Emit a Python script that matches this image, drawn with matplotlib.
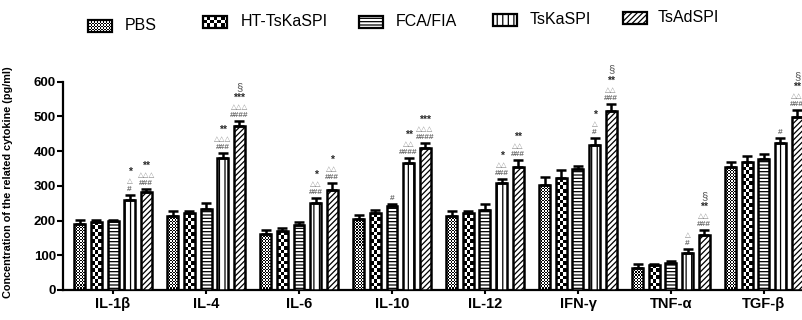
import numpy as np
import matplotlib
matplotlib.use("Agg")
import matplotlib.pyplot as plt
from matplotlib.patches import Rectangle

plt.rcParams["font.family"] = ["Liberation Sans", "DejaVu Sans"]
plt.rcParams["hatch.linewidth"] = 0.9

cytokines = ["IL-1β", "IL-4", "IL-6", "IL-10", "IL-12", "IFN-γ", "TNF-α", "TGF-β"]
groups = ["PBS", "HT-TsKaSPI", "FCA/FIA", "TsKaSPI", "TsAdSPI"]

pbs = [190, 213, 161, 205, 213, 302, 64, 354]
ht = [195, 221, 170, 222, 221, 322, 71, 369]
fca = [198, 232, 187, 242, 231, 348, 78, 377]
tska = [258, 380, 251, 366, 308, 418, 108, 422]
tsad = [283, 472, 288, 410, 354, 516, 158, 499]

pbs_err = [12, 15, 12, 11, 15, 23, 10, 16]
ht_err = [6, 6, 9, 8, 6, 23, 5, 17]
fca_err = [5, 18, 9, 6, 16, 9, 5, 15]
tska_err = [15, 15, 14, 15, 13, 21, 11, 17]
tsad_err = [7, 15, 20, 13, 20, 21, 14, 19]

# significance marks, bottom to top
sig_fca = [(), (), (), ("#",), (), (), (), ()]
sig_tska = [("#", "△", "*"), ("###", "△△△", "**"), ("###", "△△", "*"),
            ("####", "△△", "**"), ("###", "△△", "*"), ("#", "△", "*"),
            ("#", "△"), ("#",)]
sig_tsad = [("###", "△△△", "**"), ("####", "△△△", "***", "§"), ("###", "△△", "*"),
            ("####", "△△△", "***"), ("###", "△△", "**"), ("###", "△△", "**", "§"),
            ("###", "△△", "**", "§"), ("###", "△△", "**", "§")]

values = [pbs, ht, fca, tska, tsad]
errors = [pbs_err, ht_err, fca_err, tska_err, tsad_err]
marks = [None, None, sig_fca, sig_tska, sig_tsad]
styles = [("checker", 1.5), ("checker", 3.6), ("-----", None), ("|||", None), ("//////", None)]

W, H = 803, 320
fig = plt.figure(figsize=(W / 100, H / 100), dpi=100)
ax = fig.add_axes([63 / W, 30 / H, (W - 63) / W, 208.3 / H])
XMIN, XMAX, YMAX = -0.538, 7.42, 600
sx = (W - 63) / (XMAX - XMIN)   # px per x unit
sy = 208.3 / YMAX               # px per y unit


def checker(a, patch, x0, y0, w, h, cell, sx, sy, z):
    nx = int(np.ceil(w * sx / cell)) + 1
    ny = int(np.ceil(abs(h) * sy / cell)) + 1
    arr = np.add.outer(np.arange(ny), np.arange(nx)) % 2
    ext = (x0, x0 + nx * cell / sx, y0, y0 + np.sign(h) * ny * cell / sy)
    im = a.imshow(arr, cmap="gray_r", vmin=0, vmax=1, extent=ext, origin="lower",
                  interpolation="nearest", aspect="auto", zorder=z)
    im.set_clip_path(patch)


# text style per mark kind, and centre height above the cap (pixels)
mark_style = {
    "#": (dict(fontsize=6, color="#6e6e6e", fontweight="bold"), 5.5),
    "△": (dict(fontsize=5.4, color="#8c8c8c"), 13.5),
    "*": (dict(fontsize=7.5, color="#2a2a2a", fontweight="bold"), 23),
    "§": (dict(fontsize=8, color="#555555"), 34),
}

x = np.arange(len(cytokines))
pitch, bw = 0.178, 0.118
lw = 1.8
for i, (vals, errs, (kind, cell)) in enumerate(zip(values, errors, styles)):
    xs = x + (i - 2) * pitch
    if kind == "checker":
        bars = ax.bar(xs, vals, bw, facecolor="none", edgecolor="black", lw=lw, zorder=3)
        for b in bars:
            checker(ax, b, b.get_x(), 0, b.get_width(), b.get_height(), cell, sx, sy, 2)
    else:
        ax.bar(xs, vals, bw, facecolor="white", edgecolor="black", lw=lw, hatch=kind, zorder=3)
    ax.errorbar(xs, vals, yerr=[np.zeros(len(vals)), errs], fmt="none", ecolor="black",
                elinewidth=lw, capsize=3.3, capthick=lw, zorder=4)
    if marks[i] is None:
        continue
    for xi, v, e, m in zip(xs, vals, errs, marks[i]):
        for s in m:
            kw, dy = mark_style[s[0]]
            ax.annotate(s, xy=(xi, v + e), xytext=(0, dy * 0.72), textcoords="offset points",
                        ha="center", va="center", annotation_clip=False, **kw)

ax.set_xlim(XMIN, XMAX)
ax.set_ylim(0, YMAX)
ax.set_yticks(np.arange(0, 601, 100))
ax.set_xticks(x)
ax.set_xticklabels(cytokines, fontsize=10.5, fontweight="bold")
for t in ax.get_yticklabels():
    t.set_fontweight("bold")
    t.set_fontsize(9.5)
ax.tick_params(axis="y", length=4, width=1.5, pad=1)
ax.tick_params(axis="x", length=3, width=1.5, pad=2)
ax.spines[["top", "right"]].set_visible(False)
ax.spines[["left", "bottom"]].set_linewidth(1.6)
fig.text(8 / W, 0.43, "Concentration of the related cytokine (pg/ml)", rotation=90,
         ha="center", va="center", fontsize=7.8, fontweight="bold")

# legend drawn in pixel coordinates
lax = fig.add_axes([0, 1 - 48 / H, 1, 48 / H])
lax.set_xlim(0, W)
lax.set_ylim(48, 0)
lax.axis("off")
patch_x = [88, 203, 359, 493, 623]
text_x = [125, 241, 396, 530, 658]
row_y = [26, 22, 22, 20, 18]
for lab, (kind, cell), px, tx, yy in zip(groups, styles, patch_x, text_x, row_y):
    if kind == "checker":
        r = Rectangle((px, yy - 6), 24, 12, facecolor="none", edgecolor="black", lw=1.6, zorder=3)
        lax.add_patch(r)
        checker(lax, r, px, yy - 6, 24, 12, cell, 1, 1, 2)
    else:
        lax.add_patch(Rectangle((px, yy - 6), 24, 12, facecolor="white", edgecolor="black",
                                lw=1.6, hatch=kind, zorder=3))
    lax.text(tx, yy, lab, ha="left", va="center", fontsize=11.5)
lax.set_xlim(0, W)
lax.set_ylim(48, 0)

fig.savefig("out.png", dpi=100, facecolor="white")
